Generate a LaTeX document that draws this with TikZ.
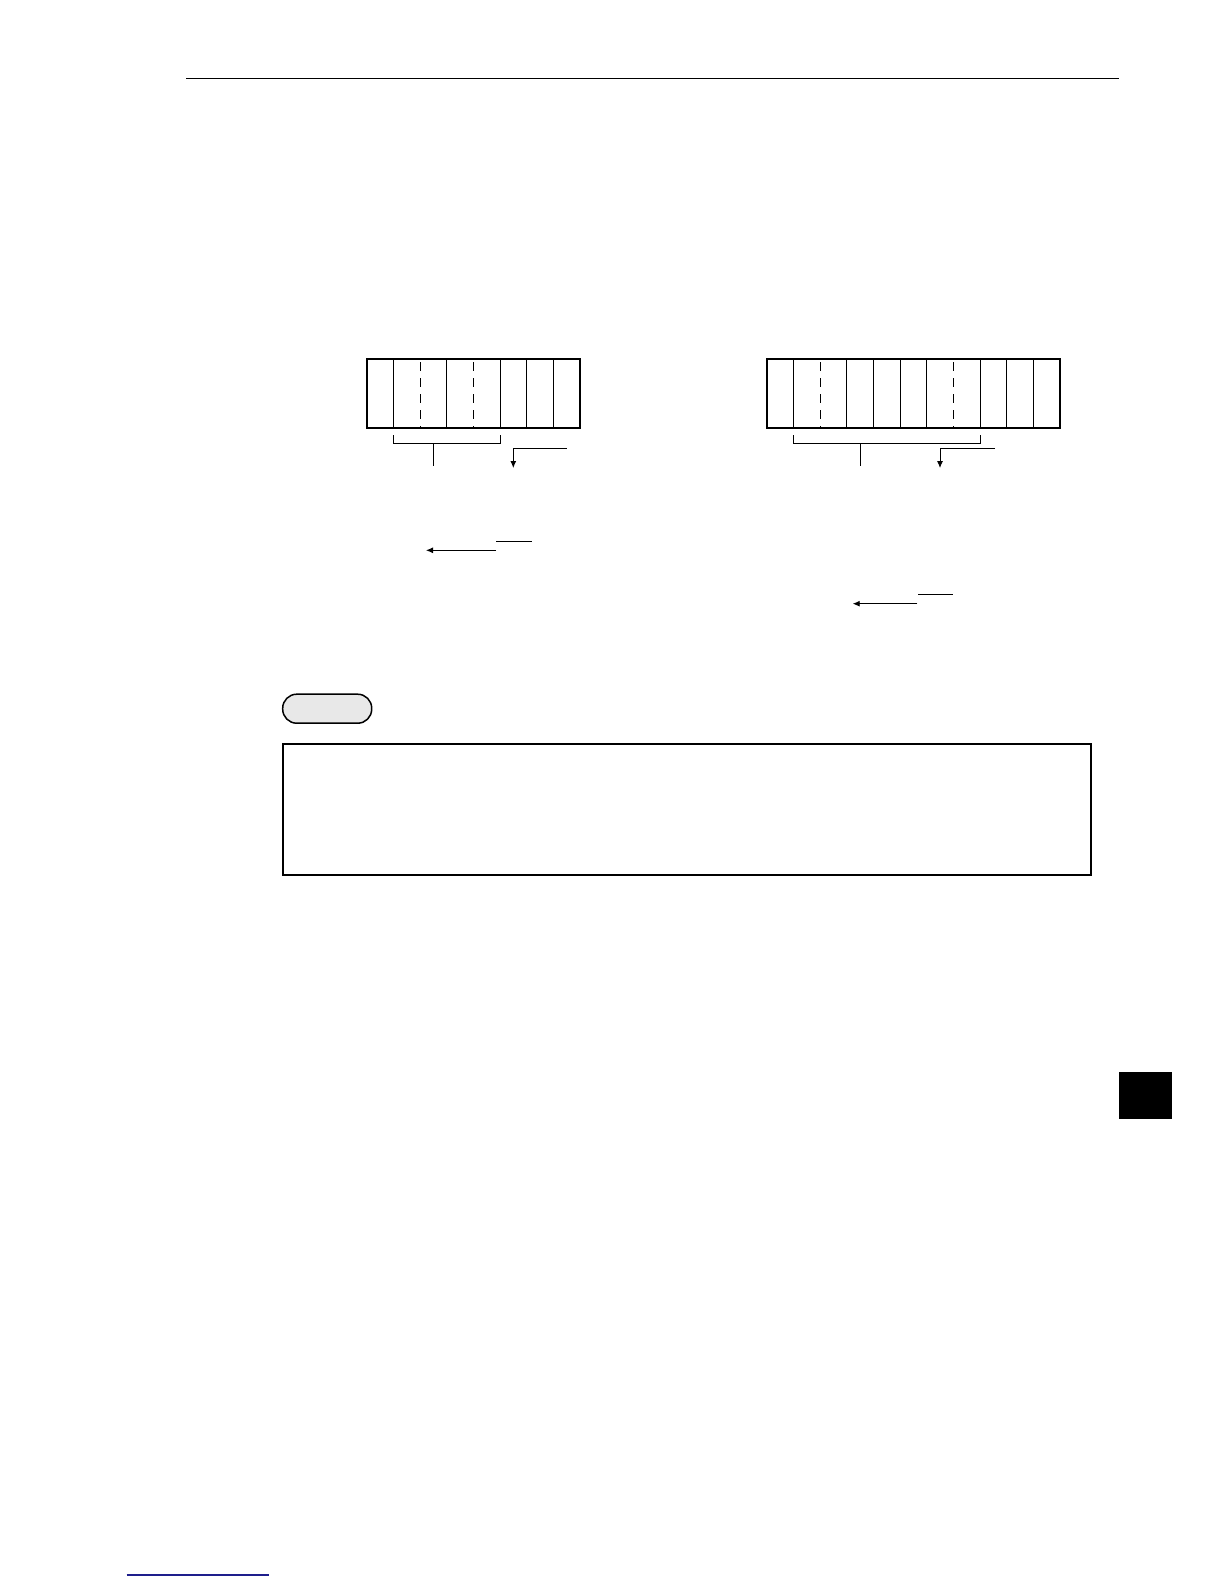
\documentclass[tikz,border=0pt]{standalone}
\usetikzlibrary{arrows.meta}
\definecolor{linkblue}{RGB}{30,30,140}
\begin{document}
\begin{tikzpicture}[x=1pt,y=-1pt,
    cellwall/.style={line width=0.9pt},
    cellsplit/.style={line width=1pt, dash pattern=on 9pt off 7pt},
    regframe/.style={line width=1.8pt},
    tip/.style={-{Latex[length=7pt,width=6pt]}, line width=0.9pt}]
    \useasboundingbox (0,0) rectangle (1224,1584);
    \draw[line width=1.4pt] (186,78.3) -- (1119,78.3);
    % left register, 8 cells
    \foreach \k in {1,3,5,6,7} \draw[cellwall] ({366.7+26.67*\k},359) -- ++(0,69);
    \foreach \k in {2,4} \draw[cellsplit] ({366.7+26.67*\k},362) -- ++(0,66);
    \draw[regframe] (366.7,359) rectangle (580,428);
    \draw[cellwall] (393.3,435) |- (500.7,443.3) -- (500.7,435);
    \draw[cellwall] (433.3,443.3) -- (433.3,466);
    \coordinate (lout) at (566.7,448.3);
    \coordinate (lin) at (513.3,468);
    \draw[tip] (lout) -| (lin);
    % right register, 11 cells
    \foreach \k in {1,3,4,5,6,8,9,10} \draw[cellwall] ({766.7+26.67*\k},359) -- ++(0,69);
    \foreach \k in {2,7} \draw[cellsplit] ({766.7+26.67*\k},362) -- ++(0,66);
    \draw[regframe] (766.7,359) rectangle (1060,428);
    \draw[cellwall] (793.3,435) |- (980,443.3) -- (980,435);
    \draw[cellwall] (860,443.3) -- (860,466);
    \coordinate (rout) at (995,448.3);
    \coordinate (rin) at (940,468);
    \draw[tip] (rout) -| (rin);
    % lower arrows with overbars
    \coordinate (lbar) at (496,550.3);
    \coordinate (lend) at (426,550.3);
    \draw[tip] (lbar) -- (lend);
    \draw[cellwall] (496,541.3) -- (531.7,541.3);
    \coordinate (rbar) at (917.3,603.7);
    \coordinate (rend) at (852.7,603.7);
    \draw[tip] (rbar) -- (rend);
    \draw[cellwall] (918,594.3) -- (953,594.3);
    % note
    \node[draw, fill=gray!18, line width=1.5pt, rounded corners=14pt,
        minimum width=89pt, minimum height=29pt, inner sep=0pt] (notetag) at (327.2,708.7) {};
    \draw[line width=2pt] (282.7,744) rectangle (1091,875.3);
    \fill (1119,1072.3) rectangle (1171.7,1119.3);
    \draw[color=linkblue, line width=1.5pt] (126.7,1575) -- (269,1575);
\end{tikzpicture}
\end{document}
